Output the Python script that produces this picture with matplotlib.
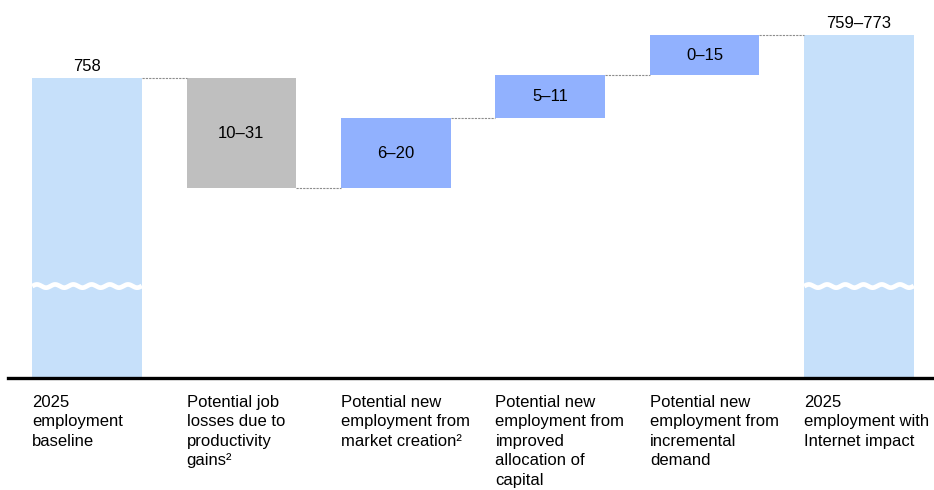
import numpy as np
import matplotlib.pyplot as plt

plt.rcParams['font.family'] = ['Liberation Sans', 'DejaVu Sans']

categories = [
    "2025\nemployment\nbaseline",
    "Potential job\nlosses due to\nproductivity\ngains\u00b2",
    "Potential new\nemployment from\nmarket creation\u00b2",
    "Potential new\nemployment from\nimproved\nallocation of\ncapital",
    "Potential new\nemployment from\nincremental\ndemand",
    "2025\nemployment with\nInternet impact",
]
baseline = 758
step_low = [10, 6, 5, 0]
step_high = [31, 20, 11, 15]
step_sign = [-1, 1, 1, 1]
total_low, total_high = 759, 773

light_blue = "#C6E0FA"
gray = "#BFBFBF"
blue = "#91B1FE"
bar_w = 0.71

# schematic broken axis: bars step by range midpoints
mids = [(lo + hi) / 2 for lo, hi in zip(step_low, step_high)]
total_mid = (total_low + total_high) / 2
y_floor, y_top = 702.2, 772.5

fig = plt.figure(figsize=(9.34, 4.9), dpi=100)
ax = fig.add_axes([8 / 934, 1 - 378 / 490, 926 / 934, 378 / 490])
ax.set_xlim(-0.512, 5.486)
ax.set_ylim(y_floor, y_top)

# baseline bar
ax.bar(0, baseline - y_floor, bottom=y_floor, width=bar_w, color=light_blue)
ax.annotate(str(baseline), (0, baseline), xytext=(0, 3), textcoords="offset points",
            ha="center", va="bottom", fontsize=12)

level = baseline
for i, (lo, hi, sgn, m) in enumerate(zip(step_low, step_high, step_sign, mids), start=1):
    new_level = level + sgn * m
    bottom = min(level, new_level)
    color = gray if sgn < 0 else blue
    ax.bar(i, m, bottom=bottom, width=bar_w, color=color)
    ax.text(i, bottom + m / 2, f"{lo}\u2013{hi}", ha="center", va="center", fontsize=12)
    # connector from previous bar
    ax.plot([i - 1 + bar_w / 2, i - bar_w / 2], [level, level], color="#8C8C8C",
            lw=0.8, ls=(0, (2, 1)))
    level = new_level

n = len(categories) - 1
ax.plot([n - 1 + bar_w / 2, n - bar_w / 2], [level, level], color="#8C8C8C",
        lw=0.8, ls=(0, (2, 1)))
ax.bar(n, total_mid - y_floor, bottom=y_floor, width=bar_w, color=light_blue)
ax.annotate(f"{total_low}\u2013{total_high}", (n, total_mid), xytext=(0, 3),
            textcoords="offset points", ha="center", va="bottom", fontsize=12)

# wavy break marks on the broken bars
break_y = 719.3
for xc in (0, n):
    xs = np.linspace(xc - bar_w / 2, xc + bar_w / 2, 200)
    ys = break_y + 0.3 * np.sin((xs - xc) * 2 * np.pi / 0.118)
    ax.plot(xs, ys, color="white", lw=3.4, solid_capstyle="butt")

# category labels
for i, lab in enumerate(categories):
    ax.annotate(lab, (i - bar_w / 2, 0), xycoords=("data", "axes fraction"),
                xytext=(0, -12), textcoords="offset points", ha="left", va="top",
                fontsize=12, linespacing=1.38)

for s in ("top", "right", "left"):
    ax.spines[s].set_visible(False)
ax.spines["bottom"].set_linewidth(2.4)
ax.set_xticks([])
ax.set_yticks([])

fig.savefig("out.png", dpi=100)
